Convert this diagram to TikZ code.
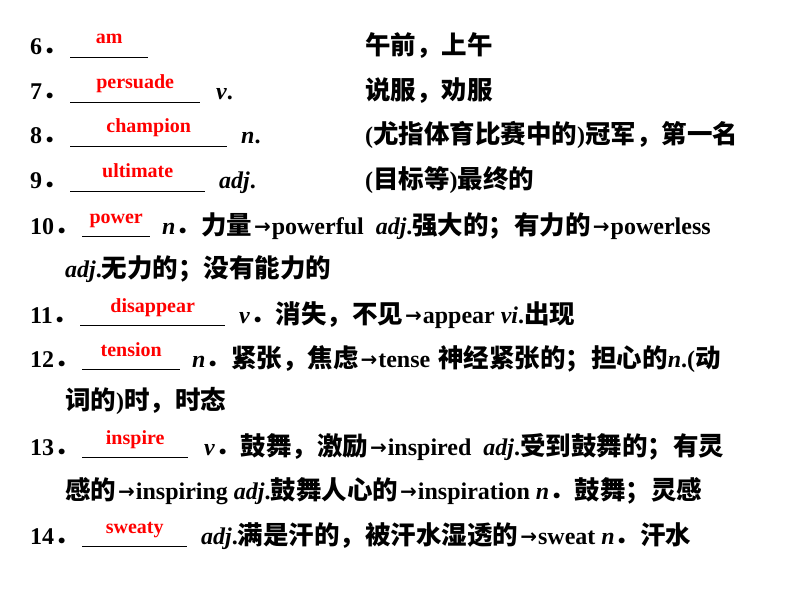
\documentclass[tikz,border=0pt]{standalone}
\usepackage{fontspec}
\setmainfont{Liberation Serif}
\newfontfamily\zhf{Noto Sans CJK SC}
\newfontfamily\arf{DejaVu Sans}
\newcommand\zh[1]{{\zhf\fontsize{25.5}{25.5}\selectfont #1}}
\newcommand\ar{\hspace{2pt}{\arf\fontsize{20}{20}\selectfont\raisebox{1pt}{→}}\hspace{1pt}}
\newcommand\num[2]{\makebox[#1][l]{#2\zh{．}}}
\newcommand\blank[2]{\rlap{\rule[-3pt]{#1}{1.2pt}}\makebox[#1]{\raisebox{11pt}{\color{red}\fontsize{20}{20}\selectfont #2}}}
\begin{document}
\begin{tikzpicture}[x=1pt,y=-1pt,
  t/.style={anchor=base west,inner sep=0pt,font=\bfseries\fontsize{24}{24}\selectfont}]
\useasboundingbox (0,0) rectangle (794,596);
\node[t] (l6) at (30,55) {\num{40pt}{6}\blank{78pt}{am}};
\node[t] (c6) at (365,55) {\zh{午前，上午}};
\node[t] (l7) at (30,100) {\num{40pt}{7}\blank{130pt}{persuade}\hspace{16pt}\textit{v}.};
\node[t] (c7) at (365,100) {\zh{说服，劝服}};
\node[t] (l8) at (30,144) {\num{40pt}{8}\blank{157pt}{champion}\hspace{14pt}\textit{n}.};
\node[t] (c8) at (365,144) {(\zh{尤指体育比赛中的})\zh{冠军，第一名}};
\node[t] (l9) at (30,189) {\num{40pt}{9}\blank{135pt}{ultimate}\hspace{14pt}\textit{adj}.};
\node[t] (c9) at (365,189) {(\zh{目标等})\zh{最终的}};
\node[t] (l10) at (30,234) {\num{52pt}{10}\blank{68pt}{power}\hspace{12pt}\textit{n}\zh{．力量}\ar powerful\hspace{12pt}\textit{adj}.\zh{强大的；有力的}\ar powerless};
\node[t] (l10b) at (65,277) {\textit{adj}.\zh{无力的；没有能力的}};
\node[t] (l11) at (30,323) {\num{50pt}{11}\blank{145pt}{disappear}\hspace{14pt}\textit{v}\zh{．消失，不见}\ar appear \textit{vi}.\zh{出现}};
\node[t] (l12) at (30,367) {\num{52pt}{12}\blank{98pt}{tension}\hspace{12pt}\textit{n}\zh{．紧张，焦虑}\ar tense\hspace{8pt}\zh{神经紧张的；担心的}\textit{n}.(\zh{动}};
\node[t] (l12b) at (65,409) {\zh{词的})\zh{时，时态}};
\node[t] (l13) at (30,455) {\num{52pt}{13}\blank{106pt}{inspire}\hspace{16pt}\textit{v}\zh{．鼓舞，激励}\ar inspired\hspace{12pt}\textit{adj}.\zh{受到鼓舞的；有灵}};
\node[t] (l13b) at (65,499) {\zh{感的}\ar inspiring \textit{adj}.\zh{鼓舞人心的}\ar inspiration \textit{n}\zh{．鼓舞；灵感}};
\node[t] (l14) at (30,544) {\num{52pt}{14}\blank{105pt}{sweaty}\hspace{14pt}\textit{adj}.\zh{满是汗的，被汗水湿透的}\ar sweat \textit{n}\zh{．汗水}};
\end{tikzpicture}
\end{document}
